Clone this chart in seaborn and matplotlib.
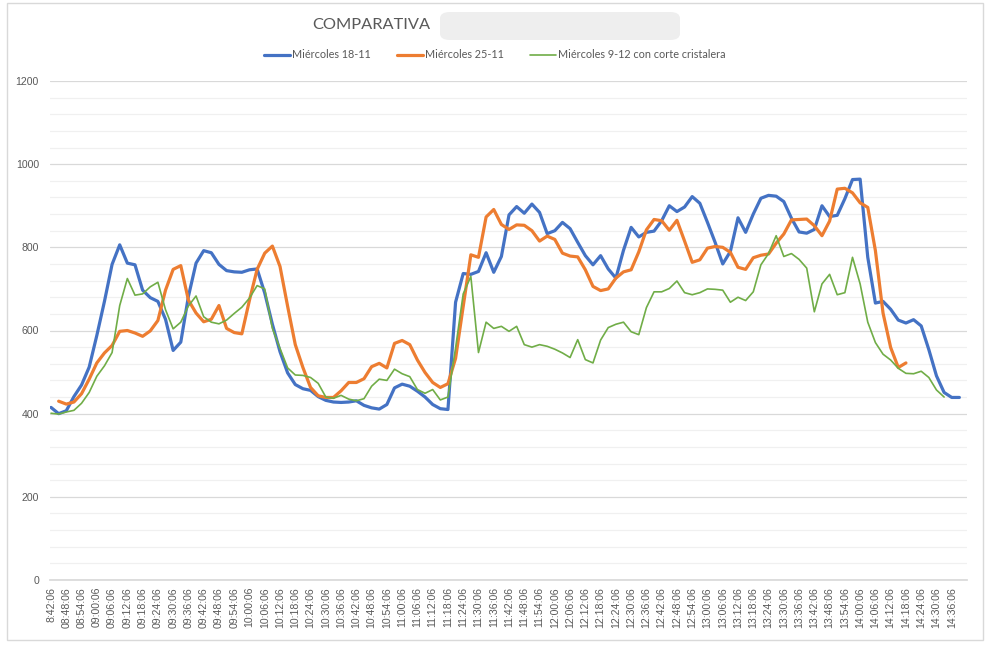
import numpy as np
import pandas as pd
import matplotlib
matplotlib.use("Agg")
import matplotlib.pyplot as plt
from matplotlib.patches import Rectangle, FancyBboxPatch
import seaborn as sns

# readings every 3 minutes, minutes counted from 8:42:06
step = 3
blue_start = 0
blue_vals = [415, 400, 407, 441, 469, 512, 588, 670, 759, 806,
             762, 758, 697, 679, 670, 627, 552, 572, 682, 762,
             792, 787, 759, 744, 741, 740, 746, 748, 690, 615,
             549, 498, 470, 460, 456, 441, 432, 428, 427, 428,
             431, 420, 414, 411, 422, 462, 471, 466, 454, 440,
             422, 412, 410, 668, 737, 735, 742, 787, 740, 778,
             878, 898, 882, 904, 884, 833, 840, 860, 845, 812,
             780, 758, 780, 748, 726, 793, 848, 825, 836, 839,
             864, 900, 886, 897, 922, 906, 860, 812, 760, 790,
             871, 836, 880, 918, 925, 923, 910, 870, 837, 834,
             843, 900, 874, 877, 917, 963, 964, 776, 666, 670,
             651, 625, 618, 626, 611, 554, 491, 451, 439, 439]

orange_start = 3
orange_vals = [430, 423, 428, 448, 483, 522, 546, 564, 598, 600,
               594, 586, 599, 624, 697, 747, 756, 673, 642, 621,
               627, 660, 605, 595, 592, 673, 747, 786, 803, 754,
               658, 566, 511, 463, 443, 439, 439, 455, 475, 475,
               484, 513, 521, 510, 569, 576, 566, 529, 499, 475,
               463, 472, 533, 658, 782, 776, 873, 891, 855, 843,
               854, 853, 840, 815, 827, 819, 786, 779, 777, 746,
               706, 696, 700, 726, 741, 746, 789, 842, 867, 864,
               841, 865, 815, 764, 770, 798, 802, 800, 788, 752,
               747, 775, 781, 784, 810, 832, 866, 867, 868, 852,
               828, 863, 940, 942, 931, 907, 896, 792, 642, 559,
               511, 522]

green_start = 0
green_vals = [401, 399, 404, 408, 425, 451, 490, 515, 547, 660,
              725, 685, 688, 705, 716, 650, 604, 620, 659, 683,
              633, 620, 616, 625, 641, 656, 678, 708, 700, 605,
              557, 510, 493, 492, 487, 473, 440, 437, 444, 435,
              431, 436, 466, 483, 480, 507, 496, 489, 458, 449,
              458, 433, 440, 558, 688, 730, 547, 620, 605, 610,
              598, 610, 566, 560, 566, 562, 555, 546, 535, 578,
              530, 522, 577, 607, 615, 620, 597, 590, 655, 693,
              693, 701, 719, 691, 686, 691, 700, 699, 697, 668,
              680, 672, 693, 758, 785, 828, 778, 785, 771, 750,
              645, 712, 735, 686, 691, 776, 712, 620, 571, 543,
              529, 509, 497, 496, 502, 487, 457, 440]

series_names = ["Miércoles 18-11", "Miércoles 25-11",
                "Miércoles 9-12 con corte cristalera"]

tick_minutes = list(range(0, 355, 6))
tick_labels = [t.strftime("%H:%M:%S")
               for t in pd.date_range("2020-11-18 08:42:06", periods=len(tick_minutes), freq="6min")]
tick_labels[0] = "8:42:06"

frames = []
for name, start, vals in zip(series_names, [blue_start, orange_start, green_start],
                             [blue_vals, orange_vals, green_vals]):
    frames.append(pd.DataFrame({"minuto": start + step * np.arange(len(vals)),
                                "valor": vals, "serie": name}))
df = pd.concat(frames, ignore_index=True)

sns.set_theme(style="white")
plt.rcParams["font.family"] = ["Liberation Sans", "DejaVu Sans"]

fig = plt.figure(figsize=(9.95, 6.48), dpi=100)
ax = fig.add_axes([50 / 995, 1 - 580 / 648, 917 / 995, 499 / 648])

colors = {series_names[0]: "#4472C4", series_names[1]: "#ED7D31", series_names[2]: "#70AD47"}
widths = {series_names[0]: 2.3, series_names[1]: 2.3, series_names[2]: 1.2}
for name in series_names:
    sns.lineplot(data=df[df["serie"] == name], x="minuto", y="valor", ax=ax,
                 color=colors[name], linewidth=widths[name], label=name,
                 solid_joinstyle="round", solid_capstyle="round")

ax.set_xlim(-0.4, 360)
ax.set_ylim(0, 1200)
ax.set_yticks(range(0, 1201, 200))
ax.set_yticks(range(0, 1201, 40), minor=True)
ax.grid(True, which="major", axis="y", color="#D9D9D9", linewidth=0.9)
ax.grid(True, which="minor", axis="y", color="#F0F0F0", linewidth=0.9)
ax.set_axisbelow(True)
ax.set_xticks(tick_minutes)
ax.set_xticklabels(tick_labels, rotation=90)
ax.tick_params(axis="x", length=0, pad=5, labelsize=7.6, labelcolor="#595959")
ax.tick_params(axis="y", which="both", length=0, pad=8, labelsize=7.6, labelcolor="#595959")
for side in ["top", "right", "left"]:
    ax.spines[side].set_visible(False)
ax.spines["bottom"].set_color("#D9D9D9")
ax.set_xlabel("")
ax.set_ylabel("")
ax.get_legend().remove()

handles, labels = ax.get_legend_handles_labels()
fig.legend(handles, labels, loc="center", bbox_to_anchor=(495 / 995, 1 - 55 / 648),
           ncol=3, frameon=False, handlelength=2.4, columnspacing=2.4,
           handletextpad=0.2, labelcolor="#595959", prop={"family": "Lato", "size": 7.8})

fig.text(312 / 995, 1 - 25 / 648, "COMPARATIVA", ha="left", va="center",
         fontsize=11.8, color="#595959", family="Lato")
# redacted part of the title
fig.patches.append(FancyBboxPatch((440 / 995, 1 - 40 / 648), 240 / 995, 28 / 648,
                                  boxstyle="round,pad=0,rounding_size=0.01",
                                  transform=fig.transFigure, facecolor="#EEEEEE",
                                  edgecolor="none"))

fig.patches.append(Rectangle((7 / 995, 1 - 640 / 648), 976 / 995, 637 / 648,
                             transform=fig.transFigure, fill=False,
                             edgecolor="#D9D9D9", linewidth=1))

fig.savefig("out.png", dpi=100)
